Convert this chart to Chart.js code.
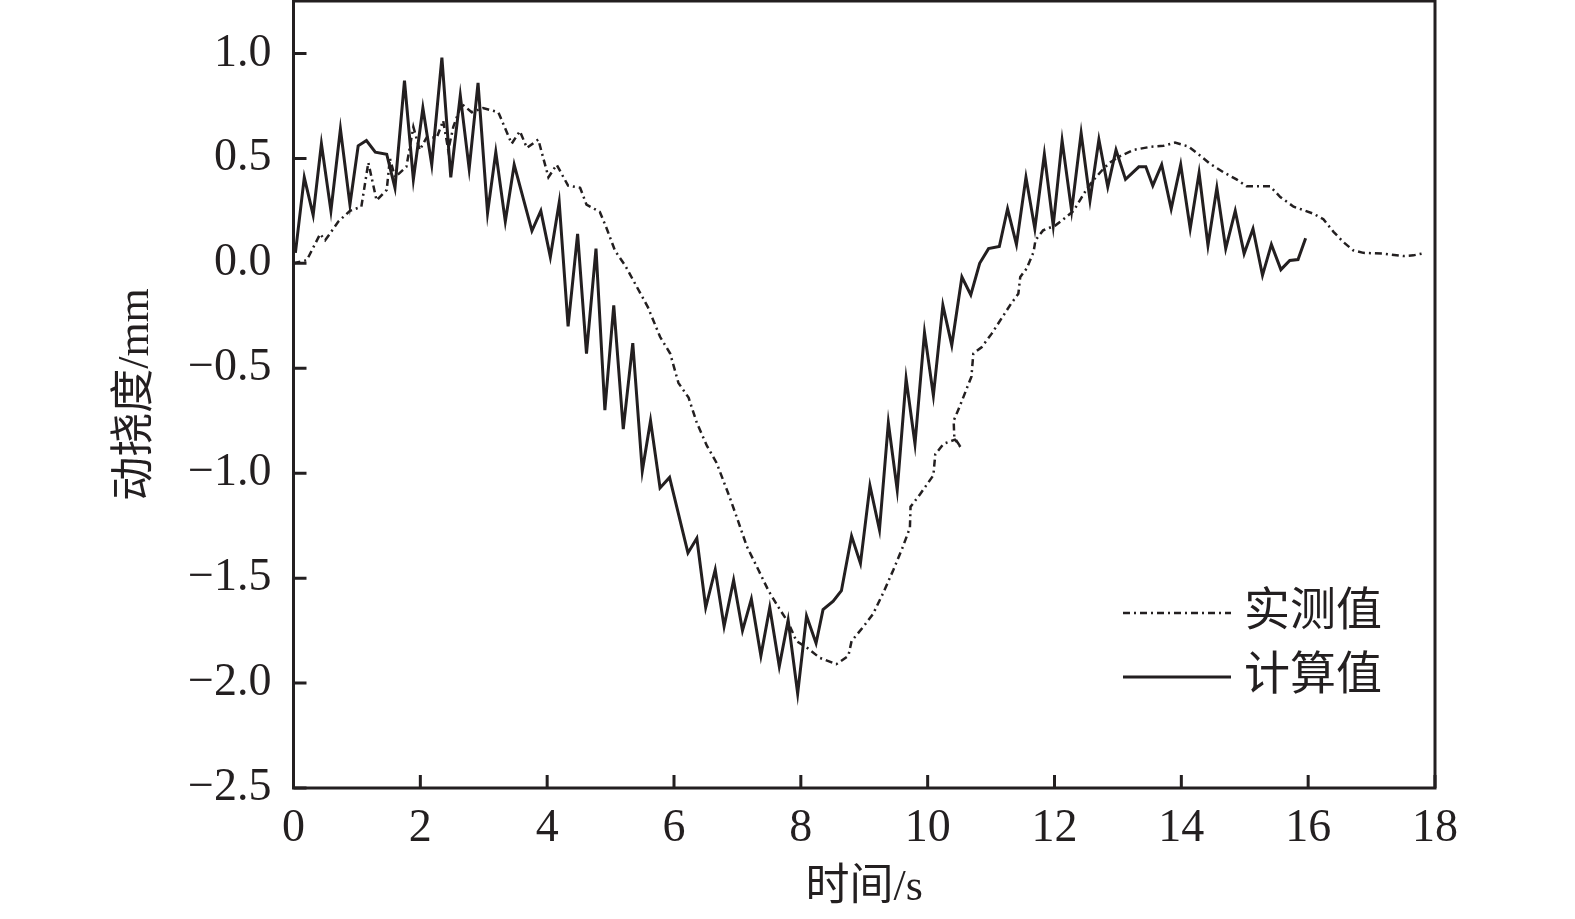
<!DOCTYPE html>
<html>
<head>
<meta charset="utf-8">
<script src="https://cdn.jsdelivr.net/npm/chart.js@4.4.1/dist/chart.umd.min.js"></script>
<style>
    html, body { margin: 0; padding: 0; background: #fff; }
    #wrap { width: 1575px; height: 919px; }
</style>
</head>
<body>
<div id="wrap"><canvas id="deflChart" width="1575" height="919"></canvas></div>
<script>
// 1. ДАННЫЕ
const calcTime = [0.03, 0.17, 0.31, 0.44, 0.59, 0.74, 0.89, 1.02, 1.15, 1.29, 1.47, 1.60, 1.75, 1.89, 2.04, 2.18, 2.34, 2.48, 2.63, 2.77,
    2.91, 3.06, 3.19, 3.34, 3.48, 3.76, 3.90, 4.05, 4.19, 4.33, 4.48, 4.62, 4.77, 4.91, 5.05, 5.20, 5.35, 5.50, 5.63, 5.78,
    5.93, 6.22, 6.36, 6.50, 6.65, 6.79, 6.94, 7.08, 7.22, 7.37, 7.51, 7.66, 7.80, 7.95, 8.09, 8.24, 8.35, 8.51, 8.64, 8.80,
    8.94, 9.09, 9.24, 9.38, 9.52, 9.66, 9.80, 9.95, 10.09, 10.24, 10.38, 10.54, 10.68, 10.82, 10.96, 11.13, 11.26, 11.40, 11.55, 11.69,
    11.84, 11.98, 12.12, 12.27, 12.42, 12.56, 12.70, 12.84, 12.97, 13.12, 13.33, 13.44, 13.55, 13.69, 13.84, 13.99, 14.14, 14.28, 14.42, 14.56,
    14.70, 14.85, 14.99, 15.13, 15.28, 15.42, 15.57, 15.71, 15.84, 15.96];
const calcDefl = [0.05, 0.41, 0.23, 0.57, 0.25, 0.64, 0.28, 0.56, 0.585, 0.53, 0.52, 0.36, 0.87, 0.40, 0.74, 0.47, 0.98, 0.41, 0.80, 0.45,
    0.86, 0.24, 0.53, 0.20, 0.47, 0.155, 0.25, 0.03, 0.29, -0.30, 0.14, -0.43, 0.07, -0.70, -0.20, -0.79, -0.38, -0.99, -0.75, -1.07,
    -1.02, -1.38, -1.31, -1.64, -1.46, -1.73, -1.51, -1.75, -1.60, -1.87, -1.64, -1.92, -1.70, -2.05, -1.68, -1.81, -1.65, -1.61, -1.56, -1.30,
    -1.43, -1.06, -1.27, -0.76, -1.08, -0.55, -0.86, -0.33, -0.63, -0.20, -0.39, -0.065, -0.15, 0.0, 0.07, 0.08, 0.26, 0.09, 0.41, 0.165,
    0.52, 0.18, 0.585, 0.25, 0.62, 0.30, 0.59, 0.365, 0.54, 0.40, 0.46, 0.46, 0.37, 0.47, 0.26, 0.47, 0.165, 0.43, 0.086, 0.36,
    0.07, 0.25, 0.046, 0.165, -0.057, 0.09, -0.03, 0.014, 0.018, 0.12];

const measTime = [0, 0.21, 0.42, 0.50, 0.71, 0.89, 1.07, 1.18, 1.31, 1.47, 1.52, 1.60, 1.78, 1.89, 1.99, 2.10, 2.26, 2.36, 2.44, 2.52,
    2.65, 2.81, 2.99, 3.23, 3.44, 3.57, 3.68, 3.86, 4.02, 4.15, 4.33, 4.52, 4.62, 4.83, 4.94, 5.07, 5.23, 5.41, 5.59, 5.78,
    5.94, 6.07, 6.23, 6.36, 6.52, 6.67, 6.86, 6.99, 7.15, 7.33, 7.49, 7.67, 7.80, 7.93, 8.09, 8.30, 8.56, 8.75, 8.80, 8.99,
    9.14, 9.30, 9.46, 9.61, 9.72, 9.73, 9.88, 10.09, 10.12, 10.25, 10.43, 10.53, 10.42, 10.41, 10.48, 10.56, 10.69, 10.72, 10.85, 11.01,
    11.17, 11.32, 11.43, 11.46, 11.56, 11.67, 11.70, 11.82, 12.01, 12.14, 12.30, 12.40, 12.51, 12.61, 12.74, 12.87, 13.03, 13.24, 13.51, 13.72,
    13.90, 14.11, 14.27, 14.45, 14.66, 14.87, 15.03, 15.40, 15.56, 15.77, 16.08, 16.24, 16.40, 16.56, 16.71, 16.87, 17.19, 17.50, 17.66, 17.85];
const measDefl = [0, 0.015, 0.14, 0.11, 0.20, 0.25, 0.27, 0.48, 0.30, 0.35, 0.50, 0.41, 0.46, 0.65, 0.54, 0.60, 0.60, 0.68, 0.54, 0.65,
    0.76, 0.72, 0.74, 0.72, 0.57, 0.63, 0.55, 0.59, 0.41, 0.47, 0.37, 0.36, 0.28, 0.245, 0.165, 0.06, -0.01, -0.11, -0.21, -0.35,
    -0.43, -0.57, -0.64, -0.76, -0.87, -0.95, -1.10, -1.21, -1.35, -1.46, -1.56, -1.65, -1.71, -1.80, -1.83, -1.88, -1.91, -1.87, -1.80, -1.73,
    -1.67, -1.57, -1.46, -1.35, -1.26, -1.16, -1.10, -1.01, -0.91, -0.86, -0.84, -0.88, -0.83, -0.75, -0.70, -0.64, -0.54, -0.43, -0.40, -0.335,
    -0.26, -0.19, -0.145, -0.065, -0.025, 0.054, 0.11, 0.157, 0.18, 0.21, 0.25, 0.30, 0.355, 0.395, 0.44, 0.48, 0.51, 0.54, 0.555, 0.56,
    0.575, 0.557, 0.52, 0.475, 0.435, 0.40, 0.367, 0.367, 0.316, 0.27, 0.237, 0.21, 0.15, 0.10, 0.062, 0.05, 0.046, 0.035, 0.038, 0.05];

const xTickVals = [0, 2, 4, 6, 8, 10, 12, 14, 16, 18];
const yTickVals = [-2.5, -2.0, -1.5, -1.0, -0.5, 0.0, 0.5, 1.0];
const seriesNames = ['实测值', '计算值'];
const axisTitles = ['时间/s', '动挠度/mm'];

// 2. СТИЛИ
const ink = '#231f20';
const latin = "'Liberation Serif', 'Times New Roman', serif";
const cjk = "'Liberation Serif', 'Noto Sans CJK SC', serif";

function toPoints(xs, ys) {
    return xs.map((x, i) => ({ x: x, y: ys[i] }));
}

// рамка и внутренние засечки
const frameAndTicks = {
    id: 'frameAndTicks',
    afterDatasetsDraw(chart) {
        const { ctx, chartArea: a, scales } = chart;
        const len = 13;
        ctx.save();
        ctx.strokeStyle = ink;
        ctx.lineWidth = 3;
        ctx.strokeRect(a.left, a.top, a.right - a.left, a.bottom - a.top);
        ctx.beginPath();
        scales.x.ticks.forEach(t => {
            const px = scales.x.getPixelForValue(t.value);
            ctx.moveTo(px, a.bottom);
            ctx.lineTo(px, a.bottom - len);
        });
        scales.y.ticks.forEach(t => {
            const py = scales.y.getPixelForValue(t.value);
            ctx.moveTo(a.left, py);
            ctx.lineTo(a.left + len, py);
        });
        ctx.stroke();
        ctx.restore();
    }
};

// легенда внутри поля графика
const insideLegend = {
    id: 'insideLegend',
    afterDraw(chart) {
        const { ctx } = chart;
        const x0 = 1123, x1 = 1231, tx = 1244;
        const rows = [613, 677];
        chart.data.datasets.forEach((ds, i) => {
            const y = rows[i];
            ctx.save();
            ctx.strokeStyle = ds.borderColor;
            ctx.lineWidth = ds.borderWidth;
            ctx.setLineDash(ds.borderDash || []);
            ctx.beginPath();
            ctx.moveTo(x0, y);
            ctx.lineTo(x1, y);
            ctx.stroke();
            ctx.setLineDash([]);
            ctx.fillStyle = ink;
            ctx.font = '46px ' + cjk;
            ctx.textAlign = 'left';
            ctx.textBaseline = 'middle';
            ctx.fillText(ds.label, tx, y);
            ctx.restore();
        });
    }
};

// 3. ГРАФИК
new Chart(document.getElementById('deflChart'), {
    type: 'line',
    data: {
        datasets: [
            {
                label: seriesNames[0],
                data: toPoints(measTime, measDefl),
                borderColor: ink,
                borderWidth: 2.5,
                borderDash: [7, 4, 2, 4],
                pointRadius: 0,
                tension: 0,
                fill: false
            },
            {
                label: seriesNames[1],
                data: toPoints(calcTime, calcDefl),
                borderColor: ink,
                borderWidth: 3,
                pointRadius: 0,
                tension: 0,
                fill: false
            }
        ]
    },
    options: {
        responsive: false,
        animation: false,
        devicePixelRatio: 1,
        layout: { padding: { top: 1, right: 140, left: 0, bottom: 0 } },
        plugins: { legend: { display: false }, tooltip: { enabled: false } },
        scales: {
            x: {
                type: 'linear',
                min: 0, max: 18,
                afterBuildTicks: s => { s.ticks = xTickVals.map(v => ({ value: v })); },
                afterFit: s => {
                    s.height = 131;
                    s.paddingLeft = 0;
                    s.paddingRight = 0;
                },
                grid: { display: false, drawTicks: false },
                border: { display: false },
                ticks: {
                    color: ink,
                    font: { family: latin, size: 46 },
                    padding: 13,
                    maxRotation: 0,
                    autoSkip: false,
                    callback: v => String(v)
                },
                title: {
                    display: true,
                    text: axisTitles[0],
                    color: ink,
                    font: { family: cjk, size: 44 },
                    padding: { top: 0, bottom: 4 }
                }
            },
            y: {
                type: 'linear',
                min: -2.5, max: 1.25,
                afterBuildTicks: s => { s.ticks = yTickVals.map(v => ({ value: v })); },
                afterFit: s => {
                    s.width = 293.5;
                    s.paddingTop = 0;
                    s.paddingBottom = 0;
                },
                grid: { display: false, drawTicks: false },
                border: { display: false },
                ticks: {
                    color: ink,
                    font: { family: latin, size: 46 },
                    padding: 22,
                    autoSkip: false,
                    callback: v => v.toFixed(1).replace('-', '\u2212')
                },
                title: {
                    display: true,
                    text: axisTitles[1],
                    color: ink,
                    font: { family: cjk, size: 44 },
                    padding: { top: 110, bottom: 0 }
                }
            }
        }
    },
    plugins: [frameAndTicks, insideLegend]
});
</script>
</body>
</html>
